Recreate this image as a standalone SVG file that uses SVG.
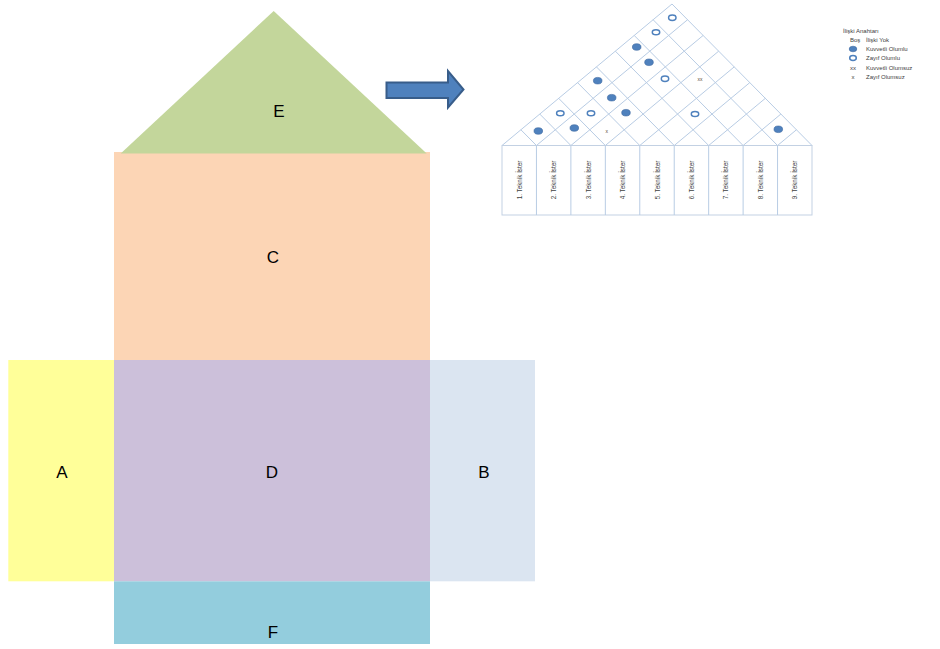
<svg xmlns="http://www.w3.org/2000/svg" width="940" height="649" viewBox="0 0 940 649">
<style>
.lbl{font-family:"Liberation Sans",Arial,sans-serif;font-size:17px;fill:#000;text-anchor:middle;dominant-baseline:central}
.grid{stroke:#B8CCE4;stroke-width:1;fill:none}
.hdr{stroke:#C3D1E3;stroke-width:1;fill:#fff}
.col{font-family:"Liberation Sans",Arial,sans-serif;font-size:6.3px;fill:#404040;text-anchor:middle;dominant-baseline:central}
.leg{font-family:"Liberation Sans",Arial,sans-serif;font-size:6px;fill:#404040;dominant-baseline:central}
.fe{fill:#4F81BD;stroke:#3A67A0;stroke-width:0.6}
.oe{fill:#fff;stroke:#4F81BD;stroke-width:1.5}
.xm{font-family:"Liberation Sans",Arial,sans-serif;font-size:5px;fill:#5a4a3a;text-anchor:middle;dominant-baseline:central}
</style>
<rect width="940" height="649" fill="#fff"/>
<g id="C"><rect x="114" y="152" width="316" height="208" fill="#FCD5B5"/><text class="lbl" x="273" y="257">C</text></g>
<g id="E"><polygon points="273.7,11 426.7,153.5 120.7,153.5" fill="#C3D69B"/><text class="lbl" x="279" y="111">E</text></g>
<g id="A"><rect x="8.3" y="360" width="105.7" height="221.3" fill="#FFFF99"/><text class="lbl" x="62" y="472">A</text></g>
<g id="D"><rect x="114" y="360" width="316" height="221.3" fill="#CCC0DA"/><text class="lbl" x="272" y="472">D</text></g>
<g id="B"><rect x="430" y="360" width="105" height="221.3" fill="#DBE5F1"/><text class="lbl" x="484" y="472">B</text></g>
<g id="F"><rect x="114" y="581.3" width="316" height="62.7" fill="#93CDDD"/><text class="lbl" x="273" y="632">F</text></g>
<g id="connectors">
<polygon points="386.5,82.5 448,82.5 448,71 463.5,89.5 448,107.5 448,98 386.5,98" fill="#4F81BD" stroke="#385D8A" stroke-width="2" stroke-linejoin="miter"/>
</g>
<g id="roof">
<polygon class="grid" points="502,145.5 672,4 812,145.5"/>
<path class="grid" d="M536.44,145.5L687.56,19.72M570.89,145.5L703.11,35.44M605.33,145.5L718.67,51.17M639.78,145.5L734.22,66.89M674.22,145.5L749.78,82.61M708.67,145.5L765.33,98.33M743.11,145.5L780.89,114.06M777.56,145.5L796.44,129.78M536.44,145.5L520.89,129.78M570.89,145.5L539.78,114.06M605.33,145.5L558.67,98.33M639.78,145.5L577.56,82.61M674.22,145.5L596.44,66.89M708.67,145.5L615.33,51.17M743.11,145.5L634.22,35.44M777.56,145.5L653.11,19.72"/>
<g>
<ellipse class="fe" cx="538.3" cy="131" rx="4.3" ry="3.3"/>
<ellipse class="fe" cx="574.3" cy="128" rx="4.3" ry="3.3"/>
<ellipse class="fe" cx="597.7" cy="80.7" rx="4.3" ry="3.3"/>
<ellipse class="fe" cx="611.7" cy="97.7" rx="4.3" ry="3.3"/>
<ellipse class="fe" cx="626" cy="112.7" rx="4.3" ry="3.3"/>
<ellipse class="fe" cx="636.7" cy="47" rx="4.3" ry="3.3"/>
<ellipse class="fe" cx="649" cy="62.3" rx="4.3" ry="3.3"/>
<ellipse class="fe" cx="778.3" cy="129.3" rx="4.3" ry="3.3"/>
<ellipse class="oe" cx="672.3" cy="17.7" rx="3.7" ry="2.7"/>
<ellipse class="oe" cx="656" cy="32.3" rx="3.7" ry="2.5"/>
<ellipse class="oe" cx="560.3" cy="113.3" rx="3.7" ry="2.5"/>
<ellipse class="oe" cx="591" cy="113.3" rx="3.7" ry="2.5"/>
<ellipse class="oe" cx="665" cy="78.7" rx="3.7" ry="2.7"/>
<ellipse class="oe" cx="695" cy="114" rx="3.7" ry="2.5"/>
<text class="xm" x="606.7" y="131.3">x</text>
<text class="xm" x="700" y="79.3">xx</text>
</g>
</g>
<g id="header">
<rect class="hdr" x="502" y="145.5" width="310" height="69.5"/>
<path class="grid" d="M536.44,145.5V215M570.89,145.5V215M605.33,145.5V215M639.78,145.5V215M674.22,145.5V215M708.67,145.5V215M743.11,145.5V215M777.56,145.5V215"/>
<text class="col" transform="translate(519.2,180) rotate(-90)">1. Teknik İster</text>
<text class="col" transform="translate(553.7,180) rotate(-90)">2. Teknik İster</text>
<text class="col" transform="translate(588.1,180) rotate(-90)">3. Teknik İster</text>
<text class="col" transform="translate(622.6,180) rotate(-90)">4. Teknik İster</text>
<text class="col" transform="translate(657,180) rotate(-90)">5. Teknik İster</text>
<text class="col" transform="translate(691.4,180) rotate(-90)">6. Teknik İster</text>
<text class="col" transform="translate(725.9,180) rotate(-90)">7. Teknik İster</text>
<text class="col" transform="translate(760.3,180) rotate(-90)">8. Teknik İster</text>
<text class="col" transform="translate(794.8,180) rotate(-90)">9. Teknik İster</text>
</g>
<g id="legend">
<text class="leg" x="843" y="31">İlişki Anahtarı</text>
<text class="leg" x="850" y="40">Boş</text>
<text class="leg" x="866" y="40">İlişki Yok</text>
<ellipse class="fe" cx="853" cy="49" rx="3.8" ry="2.8"/>
<text class="leg" x="866" y="49">Kuvvetli Olumlu</text>
<ellipse class="oe" cx="853" cy="58" rx="3.3" ry="2.4"/>
<text class="leg" x="866" y="58">Zayıf Olumlu</text>
<text class="leg" x="853" y="68" text-anchor="middle" font-size="5">xx</text>
<text class="leg" x="866" y="68">Kuvvetli Olumsuz</text>
<text class="leg" x="853" y="77" text-anchor="middle" font-size="5">x</text>
<text class="leg" x="866" y="77">Zayıf Olumsuz</text>
</g>
</svg>
